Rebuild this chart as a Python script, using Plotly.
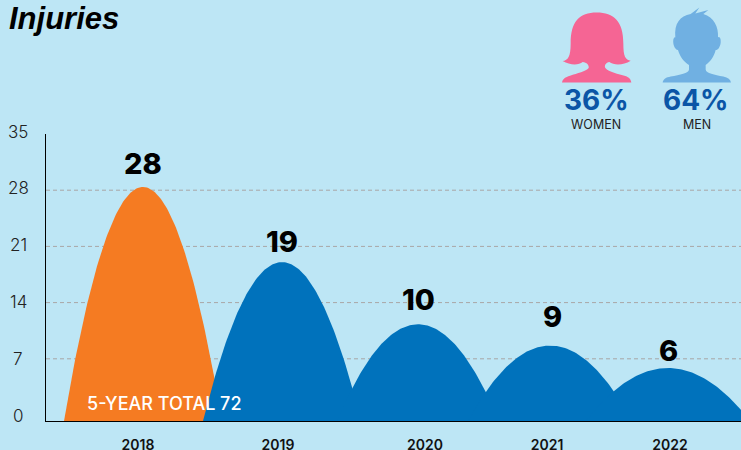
import re
import numpy as np
import plotly.graph_objects as go

# ---- data ----
years = ["2018", "2019", "2020", "2021", "2022"]
injuries = [28, 19, 10, 9, 6]
hump_peaks = [28.4, 19.05, 11.3, 8.65, 5.85]
y_ticks = [0, 7, 14, 21, 28, 35]
grid_values = [7, 14, 21, 28]
share_values = ["36%", "64%"]
share_names = ["WOMEN", "MEN"]
title_text = "Injuries"
total_text = "5-YEAR TOTAL 72"

# ---- layout constants (pixels of the 741x450 page) ----
W, H = 741, 450
AX_L, AX_BOTTOM = 46, 421
ZERO_PX, UNIT_PX = 415.0, 8.03
AX_TOP = ZERO_PX - 35 * UNIT_PX
Y_FLOOR = (ZERO_PX - AX_BOTTOM) / UNIT_PX
LABEL_ZERO_PX, LABEL_UNIT_PX = 416.0, 8.13
hump_centers = [143, 282, 418, 550, 668]
hump_half_widths = [79, 79, 81, 82, 82]
year_label_x = [138, 278, 425, 547, 670]
value_label_x = [143, 282, 418, 552, 668]
value_label_y = [163, 241, 299, 316, 350]

BG = "#BDE6F5"
ORANGE = "#F57B22"
BLUE = "#0072BC"
PINK = "#F56594"
LIGHT_BLUE = "#70B0E2"
DARK_BLUE = "#0B55A6"
FONT = "Inter"


def hump(center, half, peak):
    t = np.linspace(-1, 1, 121)
    return center + half * t, Y_FLOOR + (peak - Y_FLOOR) * (1 - t ** 2)


fig = go.Figure()
for i, year in enumerate(years):
    xs, ys = hump(hump_centers[i], hump_half_widths[i], hump_peaks[i])
    fig.add_trace(go.Scatter(
        x=xs, y=ys, mode="lines", fill="toself", name=year,
        line=dict(width=0, color=ORANGE if i == 0 else BLUE),
        fillcolor=ORANGE if i == 0 else BLUE,
        hoverinfo="skip", showlegend=False,
    ))

shapes = []
for v in grid_values:
    shapes.append(dict(type="line", xref="paper", x0=0, x1=1, yref="y", y0=v, y1=v,
                       layer="below", line=dict(color="#A9A6A6", width=1, dash="4px,3px")))

# icons: outlines traced in the 3x zoom of the top-right crop
WOMAN = ("M66,247 C68,236 76,232 90,227 C112,220 138,214 146,204 C148,196 140,187 128,186 "
         "C116,196 90,196 68,183 C84,180 92,170 92,130 C92,64 118,37 170,37 "
         "C222,37 250,64 250,130 C250,170 256,178 272,182 C250,196 222,196 208,186 "
         "C198,188 192,196 196,204 C206,216 236,222 256,228 C268,232 272,238 274,247 Z")
MAN = ("M368,247 C370,236 378,232 392,229 C420,224 446,220 447,208 L447,195 "
       "C432,186 420,170 414,150 C404,148 398,132 400,118 C402,112 404,110 406,112 "
       "C402,70 420,48 452,42 L478,22 L466,40 L505,30 L490,42 "
       "C522,52 536,80 534,112 C540,108 543,118 542,128 C540,142 534,150 527,150 "
       "C522,170 510,186 497,195 L497,208 C498,220 524,224 550,229 C564,232 572,238 573,247 Z")


def path_to_paper(path):
    out = []
    for tok in re.findall(r"[A-Z]|-?\d+\.?\d*,-?\d+\.?\d*", path):
        if "," in tok:
            zx, zy = map(float, tok.split(","))
            px, py = 540 + zx / 3, zy / 3
            out.append(f"{(px - AX_L) / (W - AX_L):.5f},{(AX_BOTTOM - py) / (AX_BOTTOM - AX_TOP):.5f}")
        else:
            out.append(tok)
    return " ".join(out)


for path, color in ((WOMAN, PINK), (MAN, LIGHT_BLUE)):
    shapes.append(dict(type="path", xref="paper", yref="paper", path=path_to_paper(path),
                       fillcolor=color, line=dict(width=0), layer="above"))


def px_note(text, px, py, size, color="#000000", weight=400, family=FONT, italic=False, anchor="center"):
    return dict(text=text, xref="paper", yref="paper", showarrow=False,
                x=(px - AX_L) / (W - AX_L), y=(AX_BOTTOM - py) / (AX_BOTTOM - AX_TOP),
                xanchor=anchor, yanchor="middle",
                font=dict(size=size, color=color, family=family, weight=weight,
                          style="italic" if italic else "normal"))


notes = [px_note(title_text, 7, 18, 31, weight=700, family="Liberation Sans", italic=True, anchor="left")]
for i, v in enumerate(injuries):
    notes.append(px_note(str(v), value_label_x[i], value_label_y[i], 29, weight=800))
for t in y_ticks:
    notes.append(px_note(str(t), 18, LABEL_ZERO_PX - t * LABEL_UNIT_PX, 17, color="#222222", weight=300))
for v, n, vx, nx in zip(share_values, share_names, [596, 696], [596, 697]):
    notes.append(px_note(v, vx, 100, 28, color=DARK_BLUE, weight=700))
    notes.append(px_note(n, nx, 124, 12.5, color="#222222"))
notes.append(px_note(total_text, 164, 403, 18, color="#FFFFFF", weight=500))

fig.update_layout(
    width=W, height=H, autosize=False,
    margin=dict(l=AX_L, r=0, t=AX_TOP, b=H - AX_BOTTOM, pad=0, autoexpand=False),
    paper_bgcolor=BG, plot_bgcolor=BG,
    shapes=shapes, annotations=notes, showlegend=False,
    xaxis=dict(range=[AX_L, W], tickmode="array", tickvals=year_label_x, ticktext=years,
               showgrid=False, zeroline=False, ticks="", showline=True, linecolor="#000000", linewidth=1,
               ticklabelstandoff=11, layer="above traces", automargin=False,
               tickfont=dict(size=14, color="#111111", family=FONT, weight=600)),
    yaxis=dict(range=[Y_FLOOR, 35], tickvals=y_ticks, showticklabels=False, showgrid=False,
               zeroline=False, ticks="", showline=True, linecolor="#000000", linewidth=1,
               automargin=False, layer="above traces"),
)

fig.write_html("out.html", config=dict(displayModeBar=False),
               post_script="document.body.style.margin='0';document.documentElement.style.overflow='hidden';"
                           "document.documentElement.style.background='#BDE6F5';")
